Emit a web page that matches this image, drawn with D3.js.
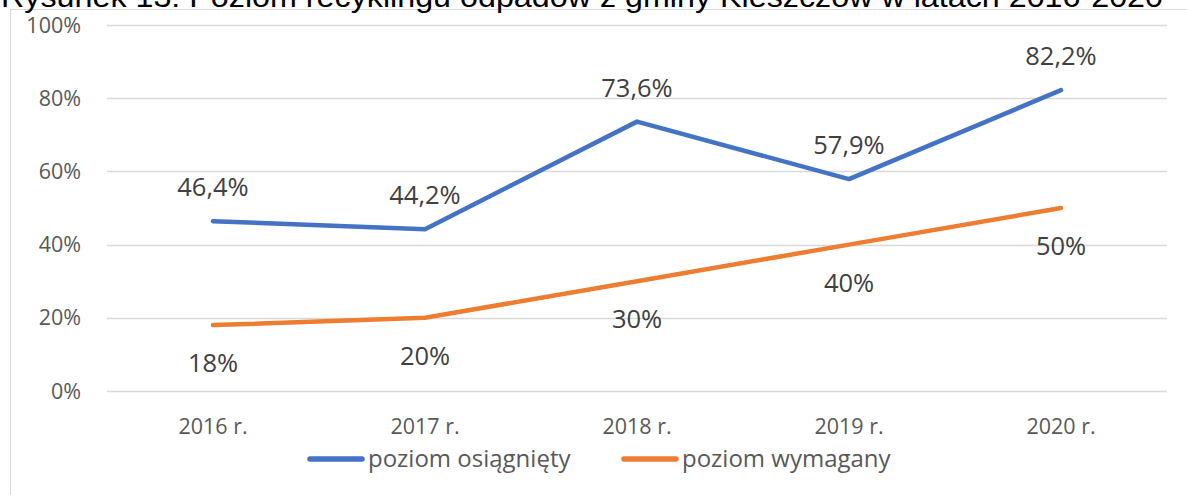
<!DOCTYPE html>
<html>
<head>
<meta charset="utf-8">
<script src="https://cdn.jsdelivr.net/npm/d3@7"></script>
<style>
  body { margin: 0; background: #fff; }
  svg { display: block; }
</style>
</head>
<body>
<svg width="1187" height="495"></svg>
<script>
const years = ["2016 r.", "2017 r.", "2018 r.", "2019 r.", "2020 r."];
const achieved = [46.4, 44.2, 73.6, 57.9, 82.2];
const required = [18, 20, 30, 40, 50];
const yTicks = [0, 20, 40, 60, 80, 100];
const seriesNames = ["poziom osiągnięty", "poziom wymagany"];
const title = "Rysunek 13: Poziom recyklingu odpadów z gminy Kleszczów w latach 2016-2020";

const svg = d3.select("svg");
const font = "'Open Sans', sans-serif";
const colors = ["#4472c4", "#ed7d31"];

// ramka wykresu (tylko lewa i górna krawędź widoczna)
svg.append("line").attr("x1", 10.5).attr("x2", 10.5).attr("y1", 9).attr("y2", 495)
    .attr("stroke", "#d9d9d9").attr("stroke-width", 1);
svg.append("line").attr("x1", 10).attr("x2", 1187).attr("y1", 9.5).attr("y2", 9.5)
    .attr("stroke", "#d9d9d9").attr("stroke-width", 1);

// tytuł ucięty u góry
svg.append("text")
    .attr("x", 1).attr("y", 7)
    .attr("font-family", "'Liberation Sans', Arial, sans-serif")
    .attr("font-size", 30)
    .attr("fill", "#000")
    .attr("textLength", 1162)
    .attr("lengthAdjust", "spacingAndGlyphs")
    .text(title);

const x = d3.scalePoint().domain(years).range([107, 1167]).padding(0.5);
const y = d3.scaleLinear().domain([0, 100]).range([391, 25]);

// siatka
svg.append("g").selectAll("line").data(yTicks).join("line")
    .attr("x1", 107).attr("x2", 1167)
    .attr("y1", d => Math.round(y(d)) + 0.5).attr("y2", d => Math.round(y(d)) + 0.5)
    .attr("stroke", "#d9d9d9").attr("stroke-width", 1.5);

// oś Y
svg.append("g").selectAll("text").data(yTicks).join("text")
    .attr("x", 81).attr("y", d => y(d) + 7.5)
    .attr("text-anchor", "end")
    .attr("font-family", font).attr("font-size", 21.5)
    .attr("fill", "#595959")
    .text(d => d + "%");

// oś X
svg.append("g").selectAll("text").data(years).join("text")
    .attr("x", d => x(d)).attr("y", 434)
    .attr("text-anchor", "middle")
    .attr("font-family", font).attr("font-size", 21.5)
    .attr("fill", "#595959")
    .text(d => d);

const line = d3.line().x(d => x(d.cat)).y(d => y(d.v));
const fmt = v => String(v).replace(".", ",") + "%";

[achieved, required].forEach((vals, i) => {
    const pts = vals.map((v, j) => ({ cat: years[j], v: v }));
    svg.append("path")
        .datum(pts)
        .attr("d", line)
        .attr("fill", "none")
        .attr("stroke", colors[i])
        .attr("stroke-width", 4.5)
        .attr("stroke-linecap", "round")
        .attr("stroke-linejoin", "round");

    svg.append("g").selectAll("text").data(pts).join("text")
        .attr("x", d => x(d.cat))
        .attr("y", d => i === 0 ? y(d.v) - 25 : y(d.v) + 47)
        .attr("text-anchor", "middle")
        .attr("font-family", font).attr("font-size", 25.5)
        .attr("fill", "#404040")
        .text(d => fmt(d.v));
});

// legenda
const legendX = [308, 622];
seriesNames.forEach((name, i) => {
    const g = svg.append("g").attr("transform", "translate(" + legendX[i] + ",459)");
    g.append("line").attr("x1", 2).attr("x2", 54).attr("y1", 0).attr("y2", 0)
        .attr("stroke", colors[i]).attr("stroke-width", 5.5).attr("stroke-linecap", "round");
    g.append("text").attr("x", 60).attr("y", 8)
        .attr("font-family", font).attr("font-size", 24)
        .attr("fill", "#595959")
        .text(name);
});
</script>
</body>
</html>
